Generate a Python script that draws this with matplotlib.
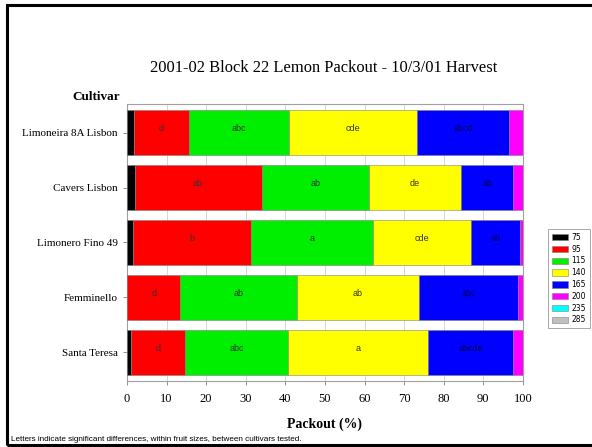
import matplotlib
matplotlib.use("Agg")
import matplotlib.pyplot as plt
from matplotlib.patches import Rectangle
import numpy as np

cultivars = ["Limoneira 8A Lisbon", "Cavers Lisbon", "Limonero Fino 49", "Femminello", "Santa Teresa"]
sizes = ["75", "95", "115", "140", "165", "200", "235", "285"]
colors = ["#000000", "#ff0000", "#00ee00", "#ffff00", "#0000ff", "#ff00ff", "#00ffff", "#c0c0c0"]

s75 = [1.8, 1.9, 1.4, 0.0, 0.9]
s95 = [13.9, 32.1, 29.8, 13.5, 13.8]
s115 = [25.3, 27.1, 31.0, 29.4, 25.9]
s140 = [32.2, 23.2, 24.8, 30.8, 35.5]
s165 = [23.3, 13.3, 12.2, 25.1, 21.5]
s200 = [3.5, 2.4, 0.8, 1.2, 2.4]
s235 = [0.0, 0.0, 0.0, 0.0, 0.0]
s285 = [0.0, 0.0, 0.0, 0.0, 0.0]
series = [s75, s95, s115, s140, s165, s200, s235, s285]

letters95 = ["d", "ab", "b", "d", "d"]
letters115 = ["abc", "ab", "a", "ab", "abc"]
letters140 = ["cde", "de", "cde", "ab", "a"]
letters165 = ["abcd", "ab", "ab", "abc", "abcde"]
letter_sets = {1: letters95, 2: letters115, 3: letters140, 4: letters165}

serif = ["Liberation Serif", "DejaVu Serif"]
sans = ["Liberation Sans", "DejaVu Sans"]

fig = plt.figure(figsize=(5.92, 4.47), dpi=100)
ax = fig.add_axes([0.2145, 0.1477, 0.6689, 0.6196])

y = np.arange(len(cultivars))
left = np.zeros(len(cultivars))
for i, (vals, c, lab) in enumerate(zip(series, colors, sizes)):
    vals = np.array(vals)
    ax.barh(y, vals, left=left, height=0.82, color=c, edgecolor="#808080",
            linewidth=0.4, label=lab, zorder=3)
    if i in letter_sets:
        for j, t in enumerate(letter_sets[i]):
            ax.text(left[j] + vals[j] / 2, y[j] - 0.07, t, ha="center", va="center",
                    fontsize=6.5, color="#333333" if i != 4 else "#000050",
                    family=sans, zorder=4)
    left = left + vals

ax.set_xlim(0, 100)
ax.set_ylim(4.52, -0.52)
ax.set_yticks(y)
ax.set_yticklabels(cultivars, family=serif, fontsize=8)
ax.set_xticks(np.arange(0, 101, 10))
ax.set_xticklabels([str(v) for v in range(0, 101, 10)], family=serif, fontsize=9)
ax.tick_params(axis="both", length=3, color="#808080", width=0.6)
ax.tick_params(axis="x", pad=6)
ax.xaxis.grid(True, color="#d0d0d0", linewidth=0.6, zorder=0)
for sp in ax.spines.values():
    sp.set_color("#a0a0a0")
    sp.set_linewidth(0.8)

ax.set_xlabel("Packout (%)", family=serif, fontsize=10, fontweight="bold", labelpad=9)

fig.text(0.547, 0.848, "2001-02 Block 22 Lemon Packout - 10/3/01 Harvest",
         ha="center", va="center", family=serif, fontsize=11.9)
fig.text(0.162, 0.783, "Cultivar", ha="center", va="center", family=serif,
         fontsize=9.5, fontweight="bold")
fig.text(0.018, 0.016, "Letters indicate significant differences, within fruit sizes, between cultivars tested.",
         ha="left", va="center", family=sans, fontsize=5.9)

leg = ax.legend(loc="upper left", bbox_to_anchor=(0.9257, 0.488), bbox_transform=fig.transFigure,
                fontsize=5.5, frameon=True, fancybox=False, edgecolor="#808080",
                handlelength=2.1, handleheight=0.9, labelspacing=0.37, borderpad=0.5,
                handletextpad=0.5, borderaxespad=0)
leg.get_frame().set_linewidth(0.6)

fig.patches.append(Rectangle((7 / 592, 2 / 447), 1.2, 440 / 447, transform=fig.transFigure,
                             fill=False, edgecolor="black", linewidth=2.2))

fig.savefig("out.png", dpi=100)
